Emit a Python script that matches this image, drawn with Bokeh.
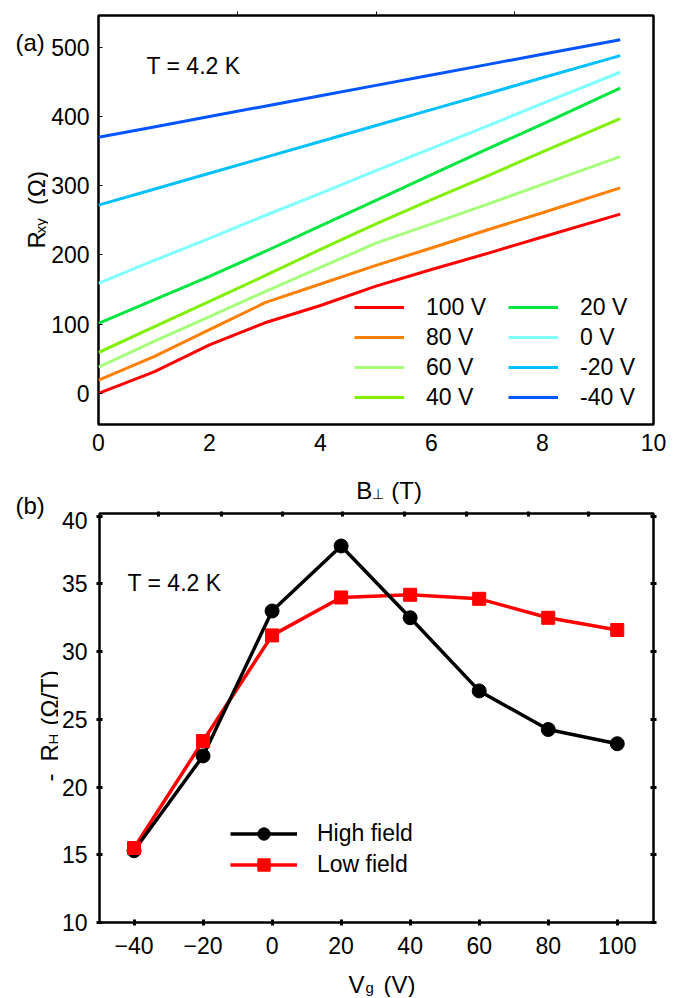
from math import pi
from bokeh.plotting import figure
from bokeh.layouts import column, row
from bokeh.models import (Range1d, FixedTicker, LinearAxis, Label, Legend, LegendItem,
                          CustomJSTickFormatter)
from bokeh.embed import file_html
from bokeh.resources import INLINE

# ---------------- data: panel (a) ----------------
B_field = [0, 1, 2, 3, 4, 5, 6, 7, 8, 9.4]
R_100V = [0, 31, 70, 102, 127, 155, 179, 202, 226, 259]
R_80V = [19, 53, 92, 131, 158, 185, 210, 236, 261, 297]
R_60V = [38, 75, 111, 147, 182, 217, 245, 273, 302, 342]
R_40V = [59, 96, 133, 170, 208, 245, 280, 314, 349, 397]
R_20V = [101, 135, 169, 205, 242, 279, 316, 353, 389, 441]
R_0V = [159, 192, 224, 257, 289, 322, 354, 386, 419, 464]
R_m20V = [272, 295, 318, 341, 364, 387, 410, 433, 456, 488]
R_m40V = [370, 385, 400, 415, 430, 445, 460, 475, 490, 511]
gate_labels = ["100 V", "80 V", "60 V", "40 V", "20 V", "0 V", "-20 V", "-40 V"]
a_xticks = [0, 2, 4, 6, 8, 10]
a_yticks = [0, 100, 200, 300, 400, 500]
a_top_ticks = [2.5, 5, 7.5]

# ---------------- data: panel (b) ----------------
Vg = [-40, -20, 0, 20, 40, 60, 80, 100]
RH_high = [15.3, 22.3, 33.0, 37.8, 32.5, 27.1, 24.25, 23.2]
RH_low = [15.5, 23.4, 31.2, 34.0, 34.2, 33.9, 32.5, 31.6]
b_xticks = [-40, -20, 0, 20, 40, 60, 80, 100]
b_yticks = [10, 15, 20, 25, 30, 35, 40]
b_top_ticks = [-32.8, -14.6, 3.1, 20.5, 38.5, 56.3, 74.2, 91.6]

FONT = "Liberation Sans"
colors = ["#ff0000", "#ff8000", "#a6ff7a", "#80f000", "#00e640", "#80ffff", "#00c0ff", "#0055ff"]


def strip(w, h):
    f = figure(width=w, height=h, x_range=Range1d(0, w), y_range=Range1d(0, h),
               output_backend="svg", toolbar_location=None,
               x_axis_location=None, y_axis_location=None,
               min_border_left=0, min_border_right=0, min_border_top=0, min_border_bottom=0)
    f.grid.visible = False
    f.outline_line_color = None
    f.background_fill_color = "white"
    f.border_fill_color = "white"
    return f


def put(f, left, top, px, py, text, size, angle=0.0, baseline="alphabetic"):
    # px, py: page pixel position; (left, top): page position of the strip's top-left corner
    h = f.height
    f.add_layout(Label(x=px - left, y=h - (py - top), text=text, text_font=FONT,
                       text_font_size=f"{size}px", angle=angle, text_baseline=baseline,
                       text_align="left", text_color="black"))


def add_in(p, x, y, text, dx, dy, size, baseline="alphabetic"):
    p.add_layout(Label(x=x, y=y, x_offset=dx, y_offset=dy, text=text, text_font=FONT,
                       text_font_size=f"{size}px", text_baseline=baseline,
                       text_align="left", text_color="black"))


def style_common(p):
    p.grid.visible = False
    p.outline_line_color = "black"
    p.outline_line_width = 2.5
    p.background_fill_color = "white"
    p.border_fill_color = "white"
    for ax in p.axis:
        ax.axis_line_color = None
        ax.major_label_text_font = FONT
        ax.major_label_text_font_size = "23px"
        ax.major_label_text_color = "black"
        ax.minor_tick_line_color = None
        ax.major_tick_line_color = "black"


def tick_only_axis(ticks, tin, tout):
    return LinearAxis(ticker=FixedTicker(ticks=ticks),
                      formatter=CustomJSTickFormatter(code="return ''"),
                      major_label_standoff=0, major_tick_in=tin, major_tick_out=tout,
                      major_label_text_font_size="1px")


# ================= panel (a) =================
p1 = figure(width=625, height=460, x_range=Range1d(0, 10), y_range=Range1d(-45, 546),
            output_backend="svg", toolbar_location=None,
            min_border_left=49, min_border_right=20, min_border_top=15, min_border_bottom=36)
series = [R_100V, R_80V, R_60V, R_40V, R_20V, R_0V, R_m20V, R_m40V]
rends = [p1.line(B_field, s, line_color=c, line_width=3) for s, c in zip(series, colors)]

top_ax = tick_only_axis(a_top_ticks, 0, 4)
p1.add_layout(top_ax, "above")
style_common(p1)
top_ax.major_label_text_font_size = "1px"
p1.below[0].ticker = FixedTicker(ticks=a_xticks)
p1.left[0].ticker = FixedTicker(ticks=a_yticks)
p1.below[0].major_tick_in = 0
p1.below[0].major_tick_out = 0
p1.below[0].major_label_standoff = 9
p1.left[0].major_tick_in = 4
p1.left[0].major_tick_out = 0
p1.left[0].major_label_standoff = 9

for i, xpos in enumerate([256, 410]):
    leg = Legend(items=[LegendItem(label=g, renderers=[r])
                        for g, r in zip(gate_labels[4 * i:4 * i + 4], rends[4 * i:4 * i + 4])],
                 location=(xpos, 12), orientation="vertical",
                 glyph_width=50, glyph_height=30, label_height=30, label_standoff=22,
                 spacing=0, padding=0, margin=0, border_line_color=None,
                 background_fill_alpha=0, label_text_font=FONT, label_text_font_size="23px",
                 label_text_color="black")
    p1.add_layout(leg, "center")
add_in(p1, 0, 546, "T = 4.2 K", 48, -50, 23, baseline="middle")

# ================= panel (b) =================
p2 = figure(width=615, height=452, x_range=Range1d(-50, 110.5), y_range=Range1d(10, 40.2),
            output_backend="svg", toolbar_location=None,
            min_border_left=39, min_border_right=20, min_border_top=2, min_border_bottom=41)
l_low = p2.line(Vg, RH_low, line_color="#ff0000", line_width=3.5)
l_high = p2.line(Vg, RH_high, line_color="black", line_width=3.5)
m_high = p2.scatter(Vg, RH_high, marker="circle", size=14, fill_color="black", line_color="black")
m_low = p2.scatter(Vg, RH_low, marker="square", size=13, fill_color="#ff0000", line_color="#ff0000")

right_ax = tick_only_axis(b_yticks, 3, 3)
top_ax2 = tick_only_axis(b_top_ticks, 3, 2)
p2.add_layout(right_ax, "right")
p2.add_layout(top_ax2, "above")
style_common(p2)
right_ax.major_label_text_font_size = "1px"
top_ax2.major_label_text_font_size = "1px"
p2.below[0].ticker = FixedTicker(ticks=b_xticks)
p2.below[0].major_label_overrides = {-40: "−40", -20: "−20"}
p2.left[0].ticker = FixedTicker(ticks=b_yticks)
for ax in p2.axis:
    ax.major_tick_in = 3
    ax.major_tick_out = 3
    ax.major_tick_line_width = 3
top_ax2.major_tick_out = 2
p2.below[0].major_label_standoff = 11
p2.left[0].major_label_standoff = 9

leg2 = Legend(items=[LegendItem(label="High field", renderers=[l_high, m_high]),
                     LegendItem(label="Low field", renderers=[l_low, m_low])],
              location=(131, 42), orientation="vertical",
              glyph_width=67, glyph_height=31, label_height=31, label_standoff=20,
              spacing=0, padding=0, margin=0, border_line_color=None,
              background_fill_alpha=0, label_text_font=FONT, label_text_font_size="23px",
              label_text_color="black")
p2.add_layout(leg2, "center")
add_in(p2, -50, 10, "T = 4.2 K", 28, 340, 23, baseline="middle")

# ---------------- text strips (page coordinates) ----------------
yl1 = strip(48, 460)          # page x 0..48, y 0..460
put(yl1, 0, 0, 15, 30, "(a)", 24)
put(yl1, 0, 0, 36, 262, "R", 24, angle=pi / 2)
put(yl1, 0, 0, 40, 245, "xy", 15, angle=pi / 2)
put(yl1, 0, 0, 36, 213, "(Ω)", 24, angle=pi / 2)

mid = strip(615, 51)          # page x 58..673, y 460..511
put(mid, 58, 460, 343, 490, "B", 24)
put(mid, 58, 460, 360, 493, "⊥", 14)
put(mid, 58, 460, 382, 490, "(T)", 24)

yl2 = strip(58, 503)          # page x 0..58, y 460..963
put(yl2, 0, 460, 15, 505, "(b)", 24)
put(yl2, 0, 460, 49, 781, "-", 24, angle=pi / 2)
put(yl2, 0, 460, 49, 761, "R", 24, angle=pi / 2)
put(yl2, 0, 460, 53, 744, "H", 15, angle=pi / 2)
put(yl2, 0, 460, 49, 725, "(Ω/T)", 24, angle=pi / 2)

bot = strip(673, 34)          # page y 963..997
put(bot, 0, 963, 348, 984, "V", 24)
put(bot, 0, 963, 365, 987, "g", 15)
put(bot, 0, 963, 383, 984, "(V)", 24)

layout = column(row(yl1, p1, spacing=0),
                row(yl2, column(mid, p2, spacing=0), spacing=0),
                bot, spacing=0)
open("out.html", "w").write(file_html(layout, INLINE))
